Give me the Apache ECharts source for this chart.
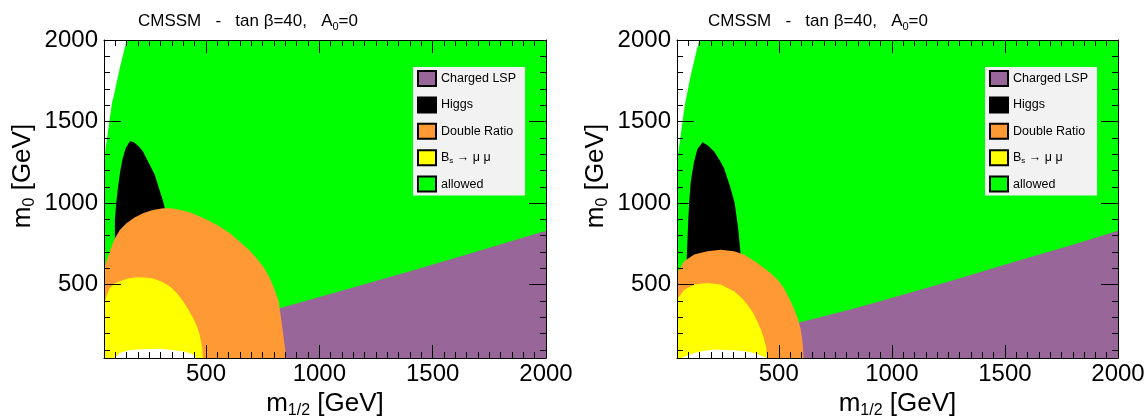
<!DOCTYPE html>
<html>
<head>
<meta charset="utf-8">
<script src="https://cdn.jsdelivr.net/npm/echarts@6/dist/echarts.min.js"></script>
<style>
html,body{margin:0;padding:0;background:#fff;}
#chart{width:1148px;height:416px;}
</style>
</head>
<body>
<div id="chart"></div>
<script>
// ---- axis ranges and tick labels ----
const X_MIN = 50, X_MAX = 2000;
const Y_MIN = 50, Y_MAX = 2000;
const xMajorTicks = [500, 1000, 1500, 2000];
const yMajorTicks = [500, 1000, 1500, 2000];
const xMinorStep = 50;
const yMinorStep = 100;

// ---- region names and colours ----
const regionNames = ['Charged LSP', 'Higgs', 'Double Ratio', 'Bs → μ μ', 'allowed'];
const regionColors = {
  'Charged LSP': '#996699',
  'Higgs': '#000000',
  'Double Ratio': '#ff9933',
  'Bs → μ μ': '#ffff00',
  'allowed': '#00ff00'
};

// ---- left panel region boundaries [m1/2, m0] (GeV) ----
const allowedL = [[50,50],[2000,50],[2000,2000],[50,2000]];
const whiteTopL = [[50,2000],[150,2000],[120,1830],[92,1650],[86,1620],[52,1290],[50,1280]];
const chargedL = [[790,50],[810,355],[825,355],[1133,476],[1427,592],[1720,714],[2000,830],[2000,50]];
const higgsL = [[98,700],[98,900],[104,1000],[112,1100],[122,1200],[132,1270],[145,1335],[165,1380],[185,1370],[205,1345],[222,1316],[250,1240],[274,1173],[295,1080],[311,1010],[335,870],[355,700]];
const doubleL = [[50,50],[50,600],[61,643],[80,720],[98,785],[120,835],[149,877],[185,912],[222,938],[265,958],[311,969],[345,968],[384,959],[430,942],[472,918],[515,890],[560,857],[605,815],[648,765],[690,712],[722,663],[755,605],[781,541],[797,490],[810,439],[820,400],[825,357],[840,200],[854,50]];
const bsL = [[50,50],[50,385],[54,398],[65,445],[76,479],[95,505],[120,520],[155,537],[193,545],[230,544],[267,537],[305,518],[340,490],[372,447],[399,398],[422,348],[443,296],[460,245],[472,194],[482,120],[487,50]];
const whiteBotL = [[95,50],[120,81],[160,98],[193,102],[296,106],[399,92],[440,75],[460,50]];

// ---- right panel region boundaries ----
const allowedR = [[50,50],[2000,50],[2000,2000],[50,2000]];
const whiteTopR = [[50,2000],[148,2000],[110,1780],[89,1632],[86,1615],[52,1275],[50,1270]];
const chargedR = [[540,50],[560,265],[581,265],[700,306],[816,347],[948,398],[1256,520],[1550,643],[1800,745],[2000,830],[2000,50]];
const higgsR = [[93,600],[93,663],[100,900],[104,1010],[111,1132],[125,1250],[140,1330],[163,1373],[185,1355],[214,1316],[240,1260],[258,1214],[285,1100],[305,1000],[320,850],[331,693],[335,600]];
const doubleR = [[50,50],[50,560],[55,581],[82,643],[126,684],[185,704],[243,714],[302,704],[346,684],[405,632],[463,571],[495,530],[522,479],[545,420],[566,357],[582,300],[596,234],[605,150],[610,50]];
const bsR = [[50,50],[50,400],[55,418],[82,469],[126,500],[185,510],[243,500],[302,459],[335,420],[361,378],[385,330],[405,275],[422,220],[434,173],[445,110],[449,50]];
const whiteBotR = [[67,50],[126,81],[170,95],[214,102],[302,98],[350,92],[390,81],[441,55],[445,50]];

const FONT = '"Liberation Sans", Arial, Helvetica, sans-serif';

function range(start, stop, step) {
  const out = [];
  for (let v = start; v <= stop + 1e-9; v += step) out.push(v);
  return out;
}
const xMinorTicks = range(100, X_MAX, xMinorStep);
const yMinorTicks = range(100, Y_MAX, yMinorStep);
const plain = function (v) { return String(v); };

function xAxes(gi) {
  const base = {gridIndex: gi, type: 'value', min: X_MIN, max: X_MAX, splitLine: {show: false}, z: 10};
  return [
    Object.assign({}, base, {
      position: 'bottom',
      axisLine: {show: true, onZero: false, lineStyle: {color: '#000', width: 1}},
      axisTick: {show: true, inside: true, length: 13, customValues: xMajorTicks, lineStyle: {color: '#000', width: 1}},
      axisLabel: {show: true, customValues: xMajorTicks, formatter: plain, fontSize: 24, margin: 4, color: '#000', fontFamily: FONT},
      name: '{m|m}{s|1/2}{m| [GeV]}',
      nameLocation: 'middle', nameGap: 27,
      nameTextStyle: {rich: {
        m: {fontSize: 26, fontFamily: FONT, color: '#000'},
        s: {fontSize: 16, fontFamily: FONT, color: '#000', padding: [14, 0, 0, 0]}
      }}
    }),
    Object.assign({}, base, {
      position: 'bottom',
      axisLine: {show: false, onZero: false},
      axisTick: {show: true, inside: true, length: 6, customValues: xMinorTicks, lineStyle: {color: '#000', width: 1}},
      axisLabel: {show: false}
    }),
    Object.assign({}, base, {
      position: 'top',
      axisLine: {show: true, onZero: false, lineStyle: {color: '#000', width: 1}},
      axisTick: {show: true, inside: true, length: 13, customValues: xMajorTicks, lineStyle: {color: '#000', width: 1}},
      axisLabel: {show: false}
    }),
    Object.assign({}, base, {
      position: 'top',
      axisLine: {show: false, onZero: false},
      axisTick: {show: true, inside: true, length: 6, customValues: xMinorTicks, lineStyle: {color: '#000', width: 1}},
      axisLabel: {show: false}
    })
  ];
}

function yAxes(gi) {
  const base = {gridIndex: gi, type: 'value', min: Y_MIN, max: Y_MAX, splitLine: {show: false}, z: 10};
  return [
    Object.assign({}, base, {
      position: 'left',
      axisLine: {show: true, onZero: false, lineStyle: {color: '#000', width: 1}},
      axisTick: {show: true, inside: true, length: 17, customValues: yMajorTicks, lineStyle: {color: '#000', width: 1}},
      axisLabel: {show: true, customValues: yMajorTicks, formatter: plain, fontSize: 24, margin: 6, color: '#000', fontFamily: FONT},
      name: '{m|m}{s|0}{m| [GeV]}',
      nameLocation: 'middle', nameGap: 66, nameRotate: 90,
      nameTextStyle: {padding: [0, 0, 0, 46], rich: {
        m: {fontSize: 26, fontFamily: FONT, color: '#000'},
        s: {fontSize: 16, fontFamily: FONT, color: '#000', padding: [14, 0, 0, 0]}
      }}
    }),
    Object.assign({}, base, {
      position: 'left',
      axisLine: {show: false, onZero: false},
      axisTick: {show: true, inside: true, length: 6, customValues: yMinorTicks, lineStyle: {color: '#000', width: 1}},
      axisLabel: {show: false}
    }),
    Object.assign({}, base, {
      position: 'right',
      axisLine: {show: true, onZero: false, lineStyle: {color: '#000', width: 1}},
      axisTick: {show: true, inside: true, length: 17, customValues: yMajorTicks, lineStyle: {color: '#000', width: 1}},
      axisLabel: {show: false}
    }),
    Object.assign({}, base, {
      position: 'right',
      axisLine: {show: false, onZero: false},
      axisTick: {show: true, inside: true, length: 6, customValues: yMinorTicks, lineStyle: {color: '#000', width: 1}},
      axisLabel: {show: false}
    })
  ];
}

function region(name, color, poly, gi) {
  return {
    type: 'custom',
    name: name,
    xAxisIndex: gi * 4,
    yAxisIndex: gi * 4,
    clip: false,
    silent: true,
    animation: false,
    z: 2,
    itemStyle: {color: color},
    data: [[(X_MIN + X_MAX) / 2, (Y_MIN + Y_MAX) / 2]],
    renderItem: function (params, api) {
      const pts = poly.map(function (p) { return api.coord(p); });
      return {type: 'polygon', shape: {points: pts}, style: {fill: color, stroke: null}};
    }
  };
}

function panelSeries(gi, d) {
  return [
    region('allowed', regionColors['allowed'], d.allowed, gi),
    region('', '#ffffff', d.whiteTop, gi),
    region('Charged LSP', regionColors['Charged LSP'], d.charged, gi),
    region('Higgs', regionColors['Higgs'], d.higgs, gi),
    region('Double Ratio', regionColors['Double Ratio'], d.double, gi),
    region('Bs → μ μ', regionColors['Bs → μ μ'], d.bs, gi),
    region('', '#ffffff', d.whiteBot, gi)
  ];
}

const legendRich = {
  t: {fontSize: 12.5, fontFamily: FONT, color: '#000', lineHeight: 15},
  s: {fontSize: 8, fontFamily: FONT, color: '#000', padding: [6, 0, 0, 0]}
};
function legendFor(left) {
  return {
    left: left, top: 67, orient: 'vertical',
    backgroundColor: '#f2f2f2',
    padding: [3, 9, 3, 4],
    itemWidth: 18, itemHeight: 15, itemGap: 9.4,
    icon: 'rect',
    itemStyle: {borderColor: '#000', borderWidth: 2},
    selectedMode: false,
    z: 20,
    data: regionNames,
    textStyle: {fontSize: 12.5, fontFamily: FONT, color: '#000', lineHeight: 15, rich: legendRich},
    formatter: function (name) {
      if (name === 'Bs → μ μ') return '{t|B}{s|s}{t| → μ μ}';
      return '{t|' + name + '}';
    }
  };
}

const titleText = '{t|CMSSM   -   tan β=40,   A}{s|0}{t|=0}';
const titleRich = {
  t: {fontSize: 17, fontFamily: FONT, fontWeight: 'normal', color: '#000'},
  s: {fontSize: 11, fontFamily: FONT, fontWeight: 'normal', color: '#000', padding: [10, 0, 0, 0]}
};

const chart = echarts.init(document.getElementById('chart'), null, {renderer: 'canvas'});
chart.setOption({
  animation: false,
  backgroundColor: '#ffffff',
  title: [
    {text: titleText, left: 133, top: 6, textStyle: {fontWeight: 'normal', rich: titleRich}},
    {text: titleText, left: 703, top: 6, textStyle: {fontWeight: 'normal', rich: titleRich}}
  ],
  grid: [
    {left: 104, top: 40, width: 442, height: 318, outerBoundsMode: 'none', containLabel: false},
    {left: 677, top: 40, width: 441, height: 318, outerBoundsMode: 'none', containLabel: false}
  ],
  legend: [legendFor(413), legendFor(985)],
  xAxis: xAxes(0).concat(xAxes(1)),
  yAxis: yAxes(0).concat(yAxes(1)),
  series: panelSeries(0, {allowed: allowedL, whiteTop: whiteTopL, charged: chargedL, higgs: higgsL, double: doubleL, bs: bsL, whiteBot: whiteBotL})
    .concat(panelSeries(1, {allowed: allowedR, whiteTop: whiteTopR, charged: chargedR, higgs: higgsR, double: doubleR, bs: bsR, whiteBot: whiteBotR}))
});
</script>
</body>
</html>
